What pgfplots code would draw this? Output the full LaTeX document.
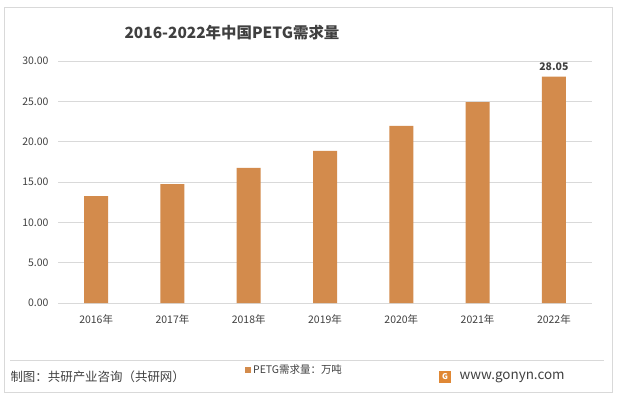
\documentclass[border=0pt]{standalone}
\usepackage{pgfplots}
\pgfplotsset{compat=1.18}
\usepackage{fontspec}
\setmainfont{Noto Sans CJK SC}
\definecolor{barc}{HTML}{D38B4C}
\definecolor{txt}{HTML}{404040}
\definecolor{gridc}{HTML}{D9D9D9}
\begin{document}
\begin{tikzpicture}[x=1bp,y=1bp]
\path[use as bounding box] (0,0) rectangle (617,396);
\draw[gridc, line width=1bp] (4,4) rectangle (612,388);
\node[font=\fontsize{15.5}{18}\selectfont\bfseries, text=txt] at (232,363) {2016-2022年中国PETG需求量};
\begin{axis}[
  at={(58bp,93bp)}, anchor=south west,
  scale only axis, width=534bp, height=242bp,
  ymin=0, ymax=30, xmin=-0.5, xmax=6.5,
  ytick={0,5,...,30},
  yticklabels={0.00,5.00,10.00,15.00,20.00,25.00,30.00},
  xtick=data,
  xticklabels={2016年,2017年,2018年,2019年,2020年,2021年,2022年},
  tick label style={font=\fontsize{10.5}{12}\selectfont, text=txt},
  yticklabel style={xshift=-6bp},
  xticklabel style={yshift=-8bp},
  ymajorgrids, grid style={gridc, line width=0.8bp},
  axis x line*=bottom, axis y line*=left,
  x axis line style={draw=gridc, line width=0.8bp, -},
  y axis line style={draw=none},
  major tick length=0pt,
  ybar, bar width=24bp,
  legend style={at={(187bp,-67bp)}, anchor=west, draw=none, fill=none,
     font=\fontsize{10.5}{12}\selectfont, text=txt, legend columns=1,
     inner sep=0pt},
  legend image code/.code={\fill[barc] (0bp,-3bp) rectangle (6bp,3bp);},
  clip=false,
]
\addplot[fill=barc, draw=none, bar shift=0pt] coordinates {
 (0,13.25) (1,14.75) (2,16.75) (3,18.85) (4,21.95) (5,24.9) (6,28.05)};
\addlegendentry{PETG需求量：万吨}
\addplot[fill=barc, draw=none, bar shift=0pt, forget plot,
  nodes near coords, nodes near coords style={font=\fontsize{10.5}{12}\selectfont\bfseries, text=txt, yshift=3bp},
  point meta=explicit symbolic] coordinates {(6,28.05) [28.05]};
\end{axis}
\draw[gridc, line width=0.8bp] (10,36) -- (604,36);
\node[anchor=west, font=\fontsize{12.5}{14}\selectfont, text=txt] at (7,19) {制图：共研产业咨询（共研网）};
\fill[barc!70!orange] (439,13) rectangle (451,25);
\node[font=\fontsize{8}{8}\selectfont\bfseries, text=white] at (445,19) {G};
\node[anchor=west, font=\fontsize{13.5}{15}\selectfont, text=txt] at (456,19) {www.gonyn.com};
\end{tikzpicture}
\end{document}
